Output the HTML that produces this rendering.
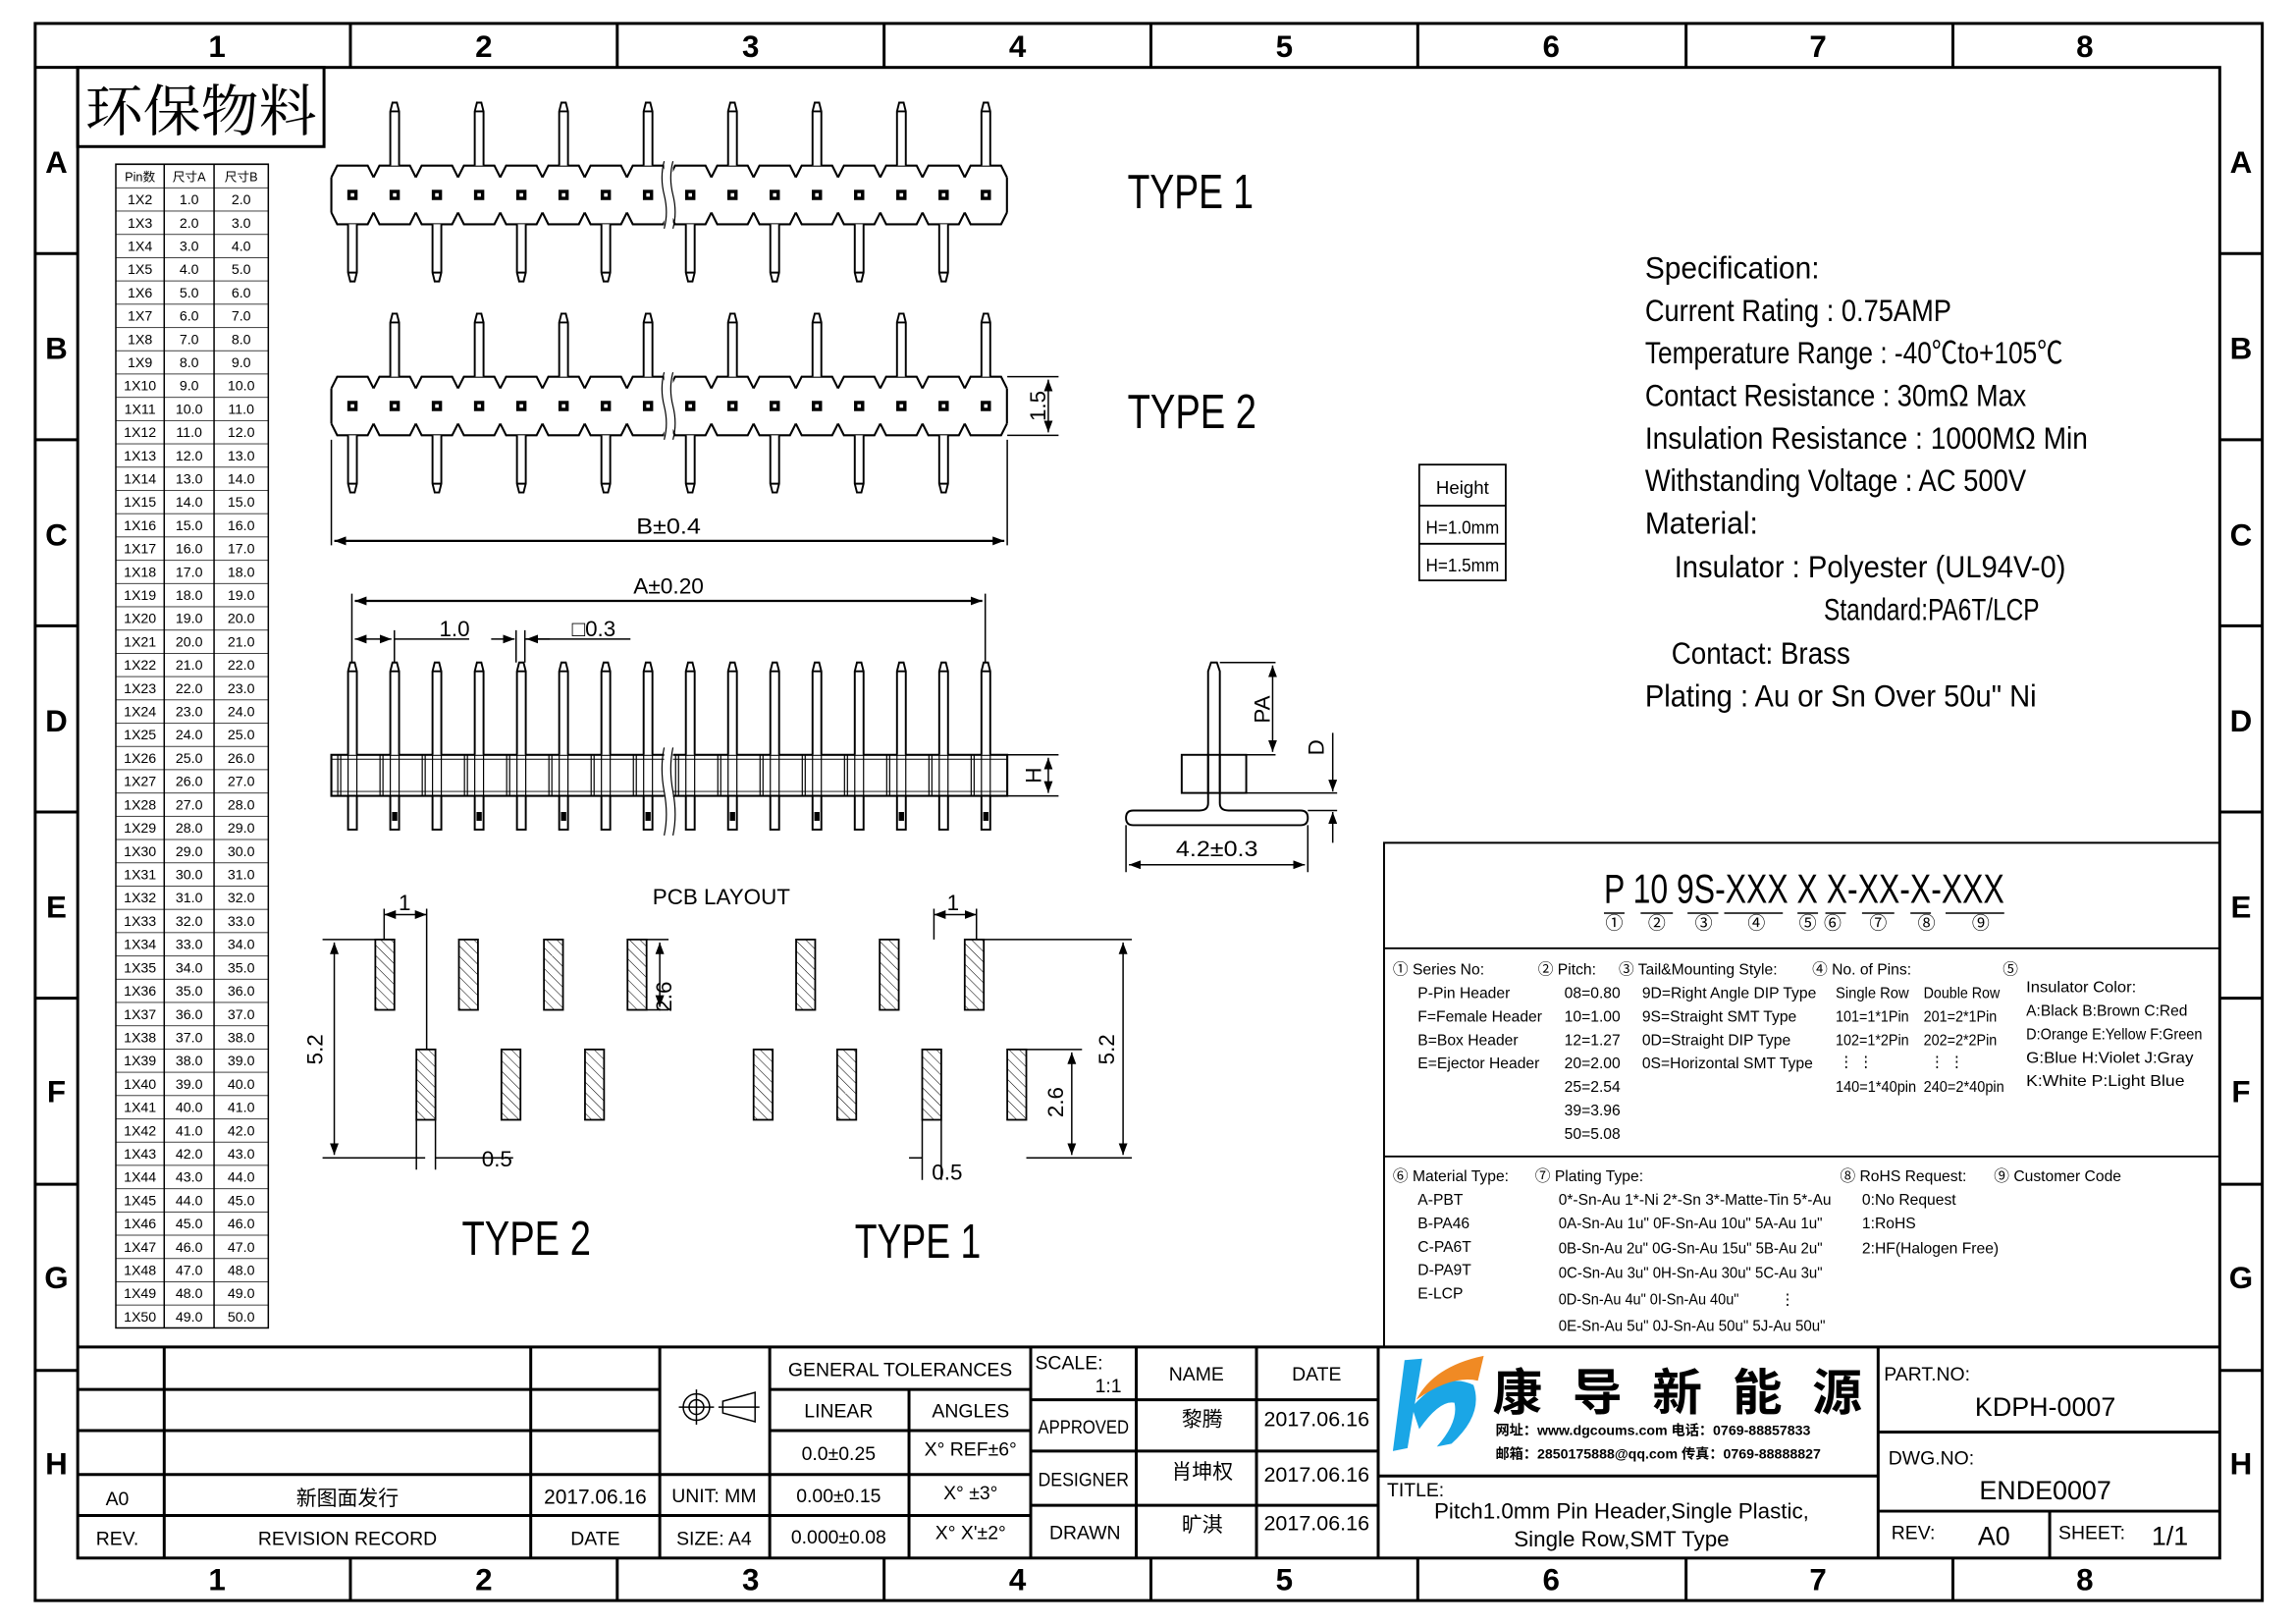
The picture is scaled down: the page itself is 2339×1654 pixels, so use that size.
<!DOCTYPE html>
<html><head><meta charset="utf-8">
<style>
html,body{margin:0;padding:0;background:#fff;}
svg{display:block;}
text{font-family:"Liberation Sans Narrow","Liberation Sans","Noto Sans CJK SC",sans-serif;fill:#000;}
.cjk{font-family:"Liberation Sans","Noto Sans CJK SC",sans-serif;}
.serif{font-family:"Liberation Serif","Noto Serif CJK SC",serif;}
.m{text-anchor:middle;}
.e{text-anchor:end;}
</style></head>
<body>
<svg width="2339" height="1654" viewBox="0 0 1566 1108" preserveAspectRatio="none" xmlns="http://www.w3.org/2000/svg" xmlns:xlink="http://www.w3.org/1999/xlink">
<defs>
<pattern id="rows" patternUnits="userSpaceOnUse" x="0" y="112" width="200" height="15.88"><line x1="0" y1="0" x2="200" y2="0" stroke="#000" stroke-width="1"/></pattern>
<pattern id="hatch" patternUnits="userSpaceOnUse" width="5" height="5" patternTransform="rotate(-45)"><line x1="0" y1="0" x2="0" y2="5" stroke="#000" stroke-width="0.7"/></pattern>
<marker id="ar" markerWidth="8" markerHeight="6" refX="8" refY="3" orient="auto" markerUnits="userSpaceOnUse"><path d="M0,0 L8,3 L0,6 Z" fill="#000"/></marker>
<marker id="al" markerWidth="8" markerHeight="6" refX="0" refY="3" orient="auto" markerUnits="userSpaceOnUse"><path d="M8,0 L0,3 L8,6 Z" fill="#000"/></marker>
<g id="cell">
<path d="M0,8 L4,0 H24.8 L28.8,8 M0,32 L4,40 H24.8 L28.8,32" fill="none" stroke="#000" stroke-width="1.4"/>
<rect x="10.9" y="16.5" width="7" height="7" fill="#000"/><rect x="13.2" y="18.8" width="2.4" height="2.4" fill="#fff"/>
</g>
<path id="tp" d="M-3,0 V-37 L-1.5,-43 H1.5 L3,-37 V0 M-3,-37 H3" fill="#fff" stroke="#000" stroke-width="1.3"/>
<path id="bp" d="M-3,40 V73 L-1.5,79 H1.5 L3,73 V40 M-3,73 H3" fill="#fff" stroke="#000" stroke-width="1.3"/>
<g id="hdr">
<use xlink:href="#cell" href="#cell" x="226"/><use xlink:href="#cell" href="#cell" x="254.8"/><use xlink:href="#cell" href="#cell" x="283.6"/><use xlink:href="#cell" href="#cell" x="312.4"/>
<use xlink:href="#cell" href="#cell" x="341.2"/><use xlink:href="#cell" href="#cell" x="370"/><use xlink:href="#cell" href="#cell" x="398.8"/><use xlink:href="#cell" href="#cell" x="427.6"/>
<use xlink:href="#cell" href="#cell" x="456.4"/><use xlink:href="#cell" href="#cell" x="485.2"/><use xlink:href="#cell" href="#cell" x="514"/><use xlink:href="#cell" href="#cell" x="542.8"/>
<use xlink:href="#cell" href="#cell" x="571.6"/><use xlink:href="#cell" href="#cell" x="600.4"/><use xlink:href="#cell" href="#cell" x="629.2"/><use xlink:href="#cell" href="#cell" x="658"/>
<path d="M226,8V32 M686.8,8V32" stroke="#000" stroke-width="1.4" fill="none"/>
<use xlink:href="#tp" href="#tp" x="269.2"/><use xlink:href="#tp" href="#tp" x="326.8"/><use xlink:href="#tp" href="#tp" x="384.4"/><use xlink:href="#tp" href="#tp" x="442"/>
<use xlink:href="#tp" href="#tp" x="499.6"/><use xlink:href="#tp" href="#tp" x="557.2"/><use xlink:href="#tp" href="#tp" x="614.8"/><use xlink:href="#tp" href="#tp" x="672.4"/>
<use xlink:href="#bp" href="#bp" x="240.4"/><use xlink:href="#bp" href="#bp" x="298"/><use xlink:href="#bp" href="#bp" x="355.6"/><use xlink:href="#bp" href="#bp" x="413.2"/>
<use xlink:href="#bp" href="#bp" x="470.8"/><use xlink:href="#bp" href="#bp" x="528.4"/><use xlink:href="#bp" href="#bp" x="586"/><use xlink:href="#bp" href="#bp" x="643.6"/>
<rect x="453" y="-3" width="6" height="46" fill="#fff"/>
<path d="M453,-3 q-3,11 0,23 t0,23 M459,-3 q-3,11 0,23 t0,23" fill="none" stroke="#000" stroke-width="0.8"/>
</g>
<g id="dpa">
<path d="M-3,0 V-57 L-1.5,-63 H1.5 L3,-57 V0 M-3,-57 H3" fill="#fff" stroke="#000" stroke-width="1.3"/>
<path d="M-3,0V28 M3,0V28 M-8,0V28 M-10,0V28" stroke="#000" stroke-width="0.8" fill="none"/>
<rect x="-3" y="28" width="6" height="23" fill="#fff" stroke="#000" stroke-width="1.3"/>
</g>
<g id="dpb">
<use xlink:href="#dpa" href="#dpa"/>
<rect x="-1.8" y="39" width="3.6" height="6" fill="#000"/>
</g>
</defs>
<g fill="none" stroke="#000">
<rect x="24" y="16" width="1519" height="1076" stroke-width="2"/>
<rect x="53" y="46" width="1461" height="1017" stroke-width="2"/>
<path stroke-width="2" d="M24,46 H53 M239,16V46 M421,16V46 M603,16V46 M785,16V46 M967,16V46 M1150,16V46 M1332,16V46
M239,1063V1092 M421,1063V1092 M603,1063V1092 M785,1063V1092 M967,1063V1092 M1150,1063V1092 M1332,1063V1092
M24,173H53 M24,300H53 M24,427H53 M24,554H53 M24,681H53 M24,808H53 M24,935H53
M1514,173H1543 M1514,300H1543 M1514,427H1543 M1514,554H1543 M1514,681H1543 M1514,808H1543 M1514,935H1543"/>
<rect x="53" y="46" width="168" height="54" stroke-width="2"/>
<rect x="79" y="112" width="104" height="794" fill="url(#rows)" stroke-width="1"/>
<path stroke-width="1" d="M112,112V906 M146,112V906"/>
</g>
<g font-size="21" font-weight="bold" class="m">
<text x="148" y="39">1</text><text x="330" y="39">2</text><text x="512" y="39">3</text><text x="694" y="39">4</text><text x="876" y="39">5</text><text x="1058" y="39">6</text><text x="1240" y="39">7</text><text x="1422" y="39">8</text>
<text x="148" y="1085">1</text><text x="330" y="1085">2</text><text x="512" y="1085">3</text><text x="694" y="1085">4</text><text x="876" y="1085">5</text><text x="1058" y="1085">6</text><text x="1240" y="1085">7</text><text x="1422" y="1085">8</text>
<text x="38.5" y="118">A</text><text x="38.5" y="245">B</text><text x="38.5" y="372">C</text><text x="38.5" y="499">D</text><text x="38.5" y="626">E</text><text x="38.5" y="752">F</text><text x="38.5" y="879">G</text><text x="38.5" y="1006">H</text>
<text x="1528.5" y="118">A</text><text x="1528.5" y="245">B</text><text x="1528.5" y="372">C</text><text x="1528.5" y="499">D</text><text x="1528.5" y="626">E</text><text x="1528.5" y="752">F</text><text x="1528.5" y="879">G</text><text x="1528.5" y="1006">H</text>
</g>
<text x="58" y="89" font-size="38" class="serif" textLength="158" lengthAdjust="spacingAndGlyphs">环保物料</text>

<g font-size="9.5" class="m">
<text x="95.5" y="123.5" class="cjk" font-size="8.5">Pin数</text><text x="129" y="123.5" class="cjk" font-size="8.5">尺寸A</text><text x="164.5" y="123.5" class="cjk" font-size="8.5">尺寸B</text>
<text x="95.5" y="139.4">1X2</text><text x="129" y="139.4">1.0</text><text x="164.5" y="139.4">2.0</text>
<text x="95.5" y="155.3">1X3</text><text x="129" y="155.3">2.0</text><text x="164.5" y="155.3">3.0</text>
<text x="95.5" y="171.1">1X4</text><text x="129" y="171.1">3.0</text><text x="164.5" y="171.1">4.0</text>
<text x="95.5" y="187.0">1X5</text><text x="129" y="187.0">4.0</text><text x="164.5" y="187.0">5.0</text>
<text x="95.5" y="202.9">1X6</text><text x="129" y="202.9">5.0</text><text x="164.5" y="202.9">6.0</text>
<text x="95.5" y="218.8">1X7</text><text x="129" y="218.8">6.0</text><text x="164.5" y="218.8">7.0</text>
<text x="95.5" y="234.7">1X8</text><text x="129" y="234.7">7.0</text><text x="164.5" y="234.7">8.0</text>
<text x="95.5" y="250.5">1X9</text><text x="129" y="250.5">8.0</text><text x="164.5" y="250.5">9.0</text>
<text x="95.5" y="266.4">1X10</text><text x="129" y="266.4">9.0</text><text x="164.5" y="266.4">10.0</text>
<text x="95.5" y="282.3">1X11</text><text x="129" y="282.3">10.0</text><text x="164.5" y="282.3">11.0</text>
<text x="95.5" y="298.2">1X12</text><text x="129" y="298.2">11.0</text><text x="164.5" y="298.2">12.0</text>
<text x="95.5" y="314.1">1X13</text><text x="129" y="314.1">12.0</text><text x="164.5" y="314.1">13.0</text>
<text x="95.5" y="329.9">1X14</text><text x="129" y="329.9">13.0</text><text x="164.5" y="329.9">14.0</text>
<text x="95.5" y="345.8">1X15</text><text x="129" y="345.8">14.0</text><text x="164.5" y="345.8">15.0</text>
<text x="95.5" y="361.7">1X16</text><text x="129" y="361.7">15.0</text><text x="164.5" y="361.7">16.0</text>
<text x="95.5" y="377.6">1X17</text><text x="129" y="377.6">16.0</text><text x="164.5" y="377.6">17.0</text>
<text x="95.5" y="393.5">1X18</text><text x="129" y="393.5">17.0</text><text x="164.5" y="393.5">18.0</text>
<text x="95.5" y="409.3">1X19</text><text x="129" y="409.3">18.0</text><text x="164.5" y="409.3">19.0</text>
<text x="95.5" y="425.2">1X20</text><text x="129" y="425.2">19.0</text><text x="164.5" y="425.2">20.0</text>
<text x="95.5" y="441.1">1X21</text><text x="129" y="441.1">20.0</text><text x="164.5" y="441.1">21.0</text>
<text x="95.5" y="457.0">1X22</text><text x="129" y="457.0">21.0</text><text x="164.5" y="457.0">22.0</text>
<text x="95.5" y="472.9">1X23</text><text x="129" y="472.9">22.0</text><text x="164.5" y="472.9">23.0</text>
<text x="95.5" y="488.7">1X24</text><text x="129" y="488.7">23.0</text><text x="164.5" y="488.7">24.0</text>
<text x="95.5" y="504.6">1X25</text><text x="129" y="504.6">24.0</text><text x="164.5" y="504.6">25.0</text>
<text x="95.5" y="520.5">1X26</text><text x="129" y="520.5">25.0</text><text x="164.5" y="520.5">26.0</text>
<text x="95.5" y="536.4">1X27</text><text x="129" y="536.4">26.0</text><text x="164.5" y="536.4">27.0</text>
<text x="95.5" y="552.3">1X28</text><text x="129" y="552.3">27.0</text><text x="164.5" y="552.3">28.0</text>
<text x="95.5" y="568.1">1X29</text><text x="129" y="568.1">28.0</text><text x="164.5" y="568.1">29.0</text>
<text x="95.5" y="584.0">1X30</text><text x="129" y="584.0">29.0</text><text x="164.5" y="584.0">30.0</text>
<text x="95.5" y="599.9">1X31</text><text x="129" y="599.9">30.0</text><text x="164.5" y="599.9">31.0</text>
<text x="95.5" y="615.8">1X32</text><text x="129" y="615.8">31.0</text><text x="164.5" y="615.8">32.0</text>
<text x="95.5" y="631.7">1X33</text><text x="129" y="631.7">32.0</text><text x="164.5" y="631.7">33.0</text>
<text x="95.5" y="647.5">1X34</text><text x="129" y="647.5">33.0</text><text x="164.5" y="647.5">34.0</text>
<text x="95.5" y="663.4">1X35</text><text x="129" y="663.4">34.0</text><text x="164.5" y="663.4">35.0</text>
<text x="95.5" y="679.3">1X36</text><text x="129" y="679.3">35.0</text><text x="164.5" y="679.3">36.0</text>
<text x="95.5" y="695.2">1X37</text><text x="129" y="695.2">36.0</text><text x="164.5" y="695.2">37.0</text>
<text x="95.5" y="711.1">1X38</text><text x="129" y="711.1">37.0</text><text x="164.5" y="711.1">38.0</text>
<text x="95.5" y="726.9">1X39</text><text x="129" y="726.9">38.0</text><text x="164.5" y="726.9">39.0</text>
<text x="95.5" y="742.8">1X40</text><text x="129" y="742.8">39.0</text><text x="164.5" y="742.8">40.0</text>
<text x="95.5" y="758.7">1X41</text><text x="129" y="758.7">40.0</text><text x="164.5" y="758.7">41.0</text>
<text x="95.5" y="774.6">1X42</text><text x="129" y="774.6">41.0</text><text x="164.5" y="774.6">42.0</text>
<text x="95.5" y="790.5">1X43</text><text x="129" y="790.5">42.0</text><text x="164.5" y="790.5">43.0</text>
<text x="95.5" y="806.3">1X44</text><text x="129" y="806.3">43.0</text><text x="164.5" y="806.3">44.0</text>
<text x="95.5" y="822.2">1X45</text><text x="129" y="822.2">44.0</text><text x="164.5" y="822.2">45.0</text>
<text x="95.5" y="838.1">1X46</text><text x="129" y="838.1">45.0</text><text x="164.5" y="838.1">46.0</text>
<text x="95.5" y="854.0">1X47</text><text x="129" y="854.0">46.0</text><text x="164.5" y="854.0">47.0</text>
<text x="95.5" y="869.9">1X48</text><text x="129" y="869.9">47.0</text><text x="164.5" y="869.9">48.0</text>
<text x="95.5" y="885.7">1X49</text><text x="129" y="885.7">48.0</text><text x="164.5" y="885.7">49.0</text>
<text x="95.5" y="901.6">1X50</text><text x="129" y="901.6">49.0</text><text x="164.5" y="901.6">50.0</text>
</g>

<!-- headers -->
<use xlink:href="#hdr" href="#hdr" y="113"/>
<use xlink:href="#hdr" href="#hdr" y="257"/>

<!-- type D front -->
<rect x="226" y="515" width="461" height="28" fill="#fff" stroke="#000" stroke-width="1.4"/>
<path d="M226,518H687 M226,540H687" stroke="#000" stroke-width="0.6" fill="none"/>
<use xlink:href="#dpa" href="#dpa" x="240.4" y="515"/><use xlink:href="#dpb" href="#dpb" x="269.2" y="515"/>
<use xlink:href="#dpa" href="#dpa" x="298" y="515"/><use xlink:href="#dpb" href="#dpb" x="326.8" y="515"/>
<use xlink:href="#dpa" href="#dpa" x="355.6" y="515"/><use xlink:href="#dpb" href="#dpb" x="384.4" y="515"/>
<use xlink:href="#dpa" href="#dpa" x="413.2" y="515"/><use xlink:href="#dpb" href="#dpb" x="442" y="515"/>
<use xlink:href="#dpa" href="#dpa" x="470.8" y="515"/><use xlink:href="#dpb" href="#dpb" x="499.6" y="515"/>
<use xlink:href="#dpa" href="#dpa" x="528.4" y="515"/><use xlink:href="#dpb" href="#dpb" x="557.2" y="515"/>
<use xlink:href="#dpa" href="#dpa" x="586" y="515"/><use xlink:href="#dpb" href="#dpb" x="614.8" y="515"/>
<use xlink:href="#dpa" href="#dpa" x="643.6" y="515"/><use xlink:href="#dpb" href="#dpb" x="672.4" y="515"/>
<rect x="453" y="510" width="6" height="60" fill="#fff"/>
<path d="M453,510 q-3,14 0,30 t0,30 M459,510 q-3,14 0,30 t0,30" fill="none" stroke="#000" stroke-width="0.8"/>

<!-- dimensions -->
<g fill="none" stroke="#000" stroke-width="1">
<path d="M687,257H722 M687,297H722 M226,300V372 M687,300V372"/>
<line x1="715" y1="259" x2="715" y2="295" marker-start="url(#al)" marker-end="url(#ar)"/>
<line x1="228" y1="369" x2="685" y2="369" marker-start="url(#al)" marker-end="url(#ar)" stroke-width="1.5"/>
<path d="M240,405V452 M672,405V452 M269,430V452 M352,430V452 M358,430V452 M269,436H320 M358,436H430 M687,515H722 M687,543H722"/>
<line x1="242" y1="410" x2="670" y2="410" marker-start="url(#al)" marker-end="url(#ar)" stroke-width="1.5"/>
<line x1="242" y1="436" x2="267" y2="436" marker-start="url(#al)" marker-end="url(#ar)"/>
<line x1="335" y1="436" x2="351" y2="436" marker-end="url(#ar)"/>
<line x1="375" y1="436" x2="359" y2="436" marker-end="url(#ar)"/>
<line x1="715" y1="517" x2="715" y2="541" marker-start="url(#al)" marker-end="url(#ar)"/>
<path d="M832,452H870 M850,515H870 M850,541H912 M892,553H912 M768,563V595 M892,563V595"/>
<line x1="868" y1="454" x2="868" y2="513" marker-start="url(#al)" marker-end="url(#ar)"/>
<line x1="909" y1="500" x2="909" y2="540" marker-end="url(#ar)"/>
<line x1="909" y1="575" x2="909" y2="554" marker-end="url(#ar)"/>
<line x1="770" y1="590" x2="890" y2="590" marker-start="url(#al)" marker-end="url(#ar)"/>
</g>
<g fill="none" stroke="#000" stroke-width="1.3">
<path d="M824,540V458 L826,452 H830 L832,458 V540"/>
<rect x="806" y="515" width="44" height="26"/>
<path d="M824,515V541 M832,515V541 M824,541 V548 Q824,553 818,553 H773 Q768,553 768,558 Q768,563 773,563 H887 Q892,563 892,558 Q892,553 887,553 H838 Q832,553 832,548 V541"/>
</g>

<g font-size="15">
<text x="456" y="364" class="m" textLength="44" lengthAdjust="spacingAndGlyphs">B±0.4</text>
<text x="456" y="405" class="m" textLength="48" lengthAdjust="spacingAndGlyphs">A±0.20</text>
<text x="310" y="434" class="m">1.0</text>
<text x="405" y="434" class="m">□0.3</text>
<text x="830" y="584" class="m" textLength="56" lengthAdjust="spacingAndGlyphs">4.2±0.3</text>
<text transform="translate(713,277) rotate(-90)" class="m">1.5</text>
<text transform="translate(710,529) rotate(-90)" class="m">H</text>
<text transform="translate(866,484) rotate(-90)" class="m">PA</text>
<text transform="translate(903,510) rotate(-90)" class="m">D</text>
</g>
<g font-size="33">
<text x="769" y="142" textLength="86" lengthAdjust="spacingAndGlyphs">TYPE 1</text>
<text x="769" y="292" textLength="88" lengthAdjust="spacingAndGlyphs">TYPE 2</text>
<text x="315" y="856" textLength="88" lengthAdjust="spacingAndGlyphs">TYPE 2</text>
<text x="583" y="858" textLength="86" lengthAdjust="spacingAndGlyphs">TYPE 1</text>
</g>

<!-- Height table -->
<g fill="none" stroke="#000" stroke-width="1.2"><rect x="968" y="317" width="59" height="79"/><path d="M968,345H1027 M968,371H1027"/></g>
<g font-size="12.5" class="m"><text x="997.5" y="337">Height</text><text x="997.5" y="364" textLength="50" lengthAdjust="spacingAndGlyphs">H=1.0mm</text><text x="997.5" y="390" textLength="50" lengthAdjust="spacingAndGlyphs">H=1.5mm</text></g>

<!-- Spec -->
<g font-size="21">
<text x="1122" y="190" textLength="119" lengthAdjust="spacingAndGlyphs">Specification:</text>
<text x="1122" y="219" textLength="209" lengthAdjust="spacingAndGlyphs">Current Rating : 0.75AMP</text>
<text x="1122" y="248" textLength="285" lengthAdjust="spacingAndGlyphs">Temperature Range : -40℃to+105℃</text>
<text x="1122" y="277" textLength="260" lengthAdjust="spacingAndGlyphs">Contact Resistance : 30mΩ Max</text>
<text x="1122" y="306" textLength="302" lengthAdjust="spacingAndGlyphs">Insulation Resistance : 1000MΩ Min</text>
<text x="1122" y="335" textLength="260" lengthAdjust="spacingAndGlyphs">Withstanding Voltage : AC 500V</text>
<text x="1122" y="364" textLength="77" lengthAdjust="spacingAndGlyphs">Material:</text>
<text x="1142" y="394" textLength="267" lengthAdjust="spacingAndGlyphs">Insulator : Polyester (UL94V-0)</text>
<text x="1244" y="423" textLength="147" lengthAdjust="spacingAndGlyphs">Standard:PA6T/LCP</text>
<text x="1140" y="453" textLength="122" lengthAdjust="spacingAndGlyphs">Contact: Brass</text>
<text x="1122" y="482" textLength="267" lengthAdjust="spacingAndGlyphs">Plating : Au or Sn Over 50u" Ni</text>
</g>

<!-- Part number panel -->
<g fill="none" stroke="#000" stroke-width="1.3">
<path d="M944,919V575H1514 M944,647H1514 M944,789H1514"/>
<path stroke-width="1" d="M1094,623H1108 M1119,623H1141 M1151,623H1172 M1176,623H1216 M1226,623H1240 M1245,623H1259 M1270,623H1292 M1303,623H1317 M1327,623H1367"/>
</g>
<text x="1094" y="616" font-size="28" textLength="273" lengthAdjust="spacingAndGlyphs">P 10 9S-XXX X X-XX-X-XXX</text>
<g font-size="12" class="m cjk"><text x="1101" y="634">①</text><text x="1130" y="634">②</text><text x="1162" y="634">③</text><text x="1198" y="634">④</text><text x="1233" y="634">⑤</text><text x="1250" y="634">⑥</text><text x="1281" y="634">⑦</text><text x="1314" y="634">⑧</text><text x="1351" y="634">⑨</text></g>
<g font-size="10.5">
<text x="950" y="665">① Series No:</text>
<text x="967" y="681">P-Pin Header</text><text x="967" y="697">F=Female Header</text><text x="967" y="713">B=Box Header</text><text x="967" y="729">E=Ejector Header</text>
<text x="1049" y="665">② Pitch:</text>
<text x="1067" y="681">08=0.80</text><text x="1067" y="697">10=1.00</text><text x="1067" y="713">12=1.27</text><text x="1067" y="729">20=2.00</text><text x="1067" y="745">25=2.54</text><text x="1067" y="761">39=3.96</text><text x="1067" y="777">50=5.08</text>
<text x="1104" y="665">③ Tail&amp;Mounting Style:</text>
<text x="1120" y="681">9D=Right Angle DIP Type</text><text x="1120" y="697">9S=Straight SMT Type</text><text x="1120" y="713">0D=Straight DIP Type</text><text x="1120" y="729">0S=Horizontal SMT Type</text>
<text x="1236" y="665">④ No. of Pins:</text>
<text x="1252" y="681" textLength="50" lengthAdjust="spacingAndGlyphs">Single Row</text><text x="1312" y="681" textLength="52" lengthAdjust="spacingAndGlyphs">Double Row</text>
<text x="1252" y="697" textLength="50" lengthAdjust="spacingAndGlyphs">101=1*1Pin</text><text x="1312" y="697" textLength="50" lengthAdjust="spacingAndGlyphs">201=2*1Pin</text>
<text x="1252" y="713" textLength="50" lengthAdjust="spacingAndGlyphs">102=1*2Pin</text><text x="1312" y="713" textLength="50" lengthAdjust="spacingAndGlyphs">202=2*2Pin</text>
<text x="1254" y="728">⋮  ⋮</text><text x="1316" y="728">⋮  ⋮</text>
<text x="1252" y="745" textLength="55" lengthAdjust="spacingAndGlyphs">140=1*40pin</text><text x="1312" y="745" textLength="55" lengthAdjust="spacingAndGlyphs">240=2*40pin</text>
<text x="1366" y="665">⑤</text>
<text x="1382" y="677" textLength="75" lengthAdjust="spacingAndGlyphs">Insulator Color:</text>
<text x="1382" y="693" textLength="110" lengthAdjust="spacingAndGlyphs">A:Black  B:Brown  C:Red</text>
<text x="1382" y="709" textLength="120" lengthAdjust="spacingAndGlyphs">D:Orange E:Yellow F:Green</text>
<text x="1382" y="725" textLength="114" lengthAdjust="spacingAndGlyphs">G:Blue   H:Violet J:Gray</text>
<text x="1382" y="741" textLength="108" lengthAdjust="spacingAndGlyphs">K:White  P:Light Blue</text>
<text x="950" y="806">⑥ Material Type:</text>
<text x="967" y="822">A-PBT</text><text x="967" y="838">B-PA46</text><text x="967" y="854">C-PA6T</text><text x="967" y="870">D-PA9T</text><text x="967" y="886">E-LCP</text>
<text x="1047" y="806">⑦ Plating Type:</text>
<text x="1063" y="822" textLength="186" lengthAdjust="spacingAndGlyphs">0*-Sn-Au 1*-Ni 2*-Sn 3*-Matte-Tin 5*-Au</text>
<text x="1063" y="838" textLength="180" lengthAdjust="spacingAndGlyphs">0A-Sn-Au 1u" 0F-Sn-Au 10u"  5A-Au 1u"</text>
<text x="1063" y="855" textLength="180" lengthAdjust="spacingAndGlyphs">0B-Sn-Au 2u" 0G-Sn-Au 15u"  5B-Au 2u"</text>
<text x="1063" y="872" textLength="180" lengthAdjust="spacingAndGlyphs">0C-Sn-Au 3u" 0H-Sn-Au 30u"  5C-Au 3u"</text>
<text x="1063" y="890" textLength="123" lengthAdjust="spacingAndGlyphs">0D-Sn-Au 4u" 0I-Sn-Au 40u"</text><text x="1214" y="890">⋮</text>
<text x="1063" y="908" textLength="182" lengthAdjust="spacingAndGlyphs">0E-Sn-Au 5u" 0J-Sn-Au 50u"  5J-Au 50u"</text>
<text x="1255" y="806">⑧ RoHS Request:</text>
<text x="1270" y="822">0:No Request</text><text x="1270" y="838">1:RoHS</text><text x="1270" y="855">2:HF(Halogen Free)</text>
<text x="1360" y="806">⑨ Customer Code</text>
</g>

<!-- PCB layout -->
<text x="492" y="617" font-size="15" class="m">PCB LAYOUT</text>
<g fill="url(#hatch)" stroke="#000" stroke-width="1.2">
<rect x="256" y="641" width="13" height="48"/><rect x="313" y="641" width="13" height="48"/><rect x="371" y="641" width="13" height="48"/><rect x="428" y="641" width="13" height="48"/>
<rect x="284" y="716" width="13" height="48"/><rect x="342" y="716" width="13" height="48"/><rect x="399" y="716" width="13" height="48"/>
<rect x="543" y="641" width="13" height="48"/><rect x="600" y="641" width="13" height="48"/><rect x="658" y="641" width="13" height="48"/>
<rect x="514" y="716" width="13" height="48"/><rect x="571" y="716" width="13" height="48"/><rect x="629" y="716" width="13" height="48"/><rect x="687" y="716" width="13" height="48"/>
</g>
<g fill="none" stroke="#000" stroke-width="1">
<path d="M262,620V641 M291,620V716 M220,641H256 M220,790H290 M441,641H456 M441,689H456 M284,764V798 M297,764V798 M297,790H350
M637,620V641 M666,620V641 M671,641H772 M700,790H772 M700,716H738 M629,764V805 M642,764V805 M620,790H629"/>
<line x1="262" y1="624" x2="291" y2="624" marker-start="url(#al)" marker-end="url(#ar)"/>
<line x1="228" y1="643" x2="228" y2="788" marker-start="url(#al)" marker-end="url(#ar)"/>
<line x1="450" y1="643" x2="450" y2="687" marker-start="url(#al)" marker-end="url(#ar)"/>
<line x1="637" y1="624" x2="666" y2="624" marker-start="url(#al)" marker-end="url(#ar)"/>
<line x1="766" y1="643" x2="766" y2="788" marker-start="url(#al)" marker-end="url(#ar)"/>
<line x1="731" y1="718" x2="731" y2="788" marker-start="url(#al)" marker-end="url(#ar)"/>
</g>
<g font-size="15" class="m">
<text x="276" y="621">1</text><text x="650" y="621">1</text>
<text x="339" y="796">0.5</text><text x="646" y="805">0.5</text>
<text transform="translate(220,716) rotate(-90)">5.2</text>
<text transform="translate(458,680) rotate(-90)">2.6</text>
<text transform="translate(760,716) rotate(-90)">5.2</text>
<text transform="translate(725,752) rotate(-90)">2.6</text>
</g>

<!-- Title block -->
<g fill="none" stroke="#000" stroke-width="2">
<path d="M53,919H1514 M53,948H450 M53,976H450 M53,1006H450 M53,1034H450 M525,948H703 M525,976H703 M525,1006H703 M525,1034H703 M450,1006H525 M450,1034H525
M112,919V1063 M362,919V1063 M450,919V1063 M525,919V1063 M620,948V1063 M703,919V1063
M703,955H940 M703,990H940 M703,1027H940 M775,919V1063 M857,919V1063 M940,919V1063
M940,1007H1281 M1281,919V1063 M1281,977H1514 M1281,1031H1514 M1398,1031V1063"/>
</g>
<g fill="none" stroke="#000" stroke-width="1">
<circle cx="475" cy="960" r="9"/><circle cx="475" cy="960" r="5"/><path d="M463,960H487 M475,948V972 M493,956L515,950V970L493,964Z M490,960H518"/>
</g>
<g font-size="13" class="m">
<text x="80" y="1027">A0</text><text x="237" y="1027" class="cjk" font-size="14">新图面发行</text><text x="406" y="1026" font-size="14">2017.06.16</text>
<text x="80" y="1054">REV.</text><text x="237" y="1054">REVISION RECORD</text><text x="406" y="1054">DATE</text>
<text x="487" y="1025">UNIT: MM</text><text x="487" y="1054">SIZE: A4</text>
<text x="614" y="939">GENERAL TOLERANCES</text>
<text x="572" y="967">LINEAR</text><text x="662" y="967">ANGLES</text>
<text x="572" y="996">0.0±0.25</text><text x="662" y="993">X° REF±6°</text>
<text x="572" y="1025">0.00±0.15</text><text x="662" y="1023">X° ±3°</text>
<text x="572" y="1053">0.000±0.08</text><text x="662" y="1050">X° X'±2°</text>
<text x="816" y="942">NAME</text><text x="898" y="942">DATE</text>
<text x="739" y="978" textLength="62" lengthAdjust="spacingAndGlyphs">APPROVED</text><text x="739" y="1014" textLength="62" lengthAdjust="spacingAndGlyphs">DESIGNER</text><text x="740" y="1050">DRAWN</text>
<text x="820" y="973" class="cjk" font-size="14">黎腾</text><text x="820" y="1009" class="cjk" font-size="14">肖坤权</text><text x="820" y="1045" class="cjk" font-size="14">旷淇</text>
<text x="898" y="973" font-size="14" textLength="72" lengthAdjust="spacingAndGlyphs">2017.06.16</text><text x="898" y="1011" font-size="14" textLength="72" lengthAdjust="spacingAndGlyphs">2017.06.16</text><text x="898" y="1044" font-size="14" textLength="72" lengthAdjust="spacingAndGlyphs">2017.06.16</text>
<text x="1106" y="1036" font-size="15">Pitch1.0mm Pin Header,Single Plastic,</text>
<text x="1106" y="1055" font-size="15">Single Row,SMT Type</text>
<text x="1395" y="966" font-size="18">KDPH-0007</text>
<text x="1395" y="1023" font-size="18">ENDE0007</text>
<text x="1360" y="1054" font-size="18">A0</text>
<text x="1480" y="1054" font-size="18">1/1</text>
</g>
<g font-size="13">
<text x="706" y="934">SCALE:</text><text x="765" y="950" class="e">1:1</text>
<text x="946" y="1021">TITLE:</text>
<text x="1285" y="942">PART.NO:</text><text x="1288" y="999">DWG.NO:</text>
<text x="1290" y="1050">REV:</text><text x="1404" y="1050">SHEET:</text>
</g>
<!-- logo -->
<path d="M958,928 L970,927 L960,988 L950,990 Z M963,960 Q985,935 1005,945 Q1012,965 990,985 L980,987 Q995,970 992,957 Q982,955 968,975 Z" fill="#1aa6e6"/>
<path d="M966,955 Q978,932 1012,925 L1008,942 Q990,938 966,955 Z" fill="#f08a24"/>
<text x="1018" y="962" font-size="34" font-weight="bold" class="cjk" textLength="252" lengthAdjust="spacing">康导新能源</text>
<g font-size="9.5" font-weight="bold" class="cjk">
<text x="1020" y="979">网址：www.dgcoums.com  电话：0769-88857833</text>
<text x="1020" y="995">邮箱：2850175888@qq.com 传真：0769-88888827</text>
</g>
</svg>
</body></html>
